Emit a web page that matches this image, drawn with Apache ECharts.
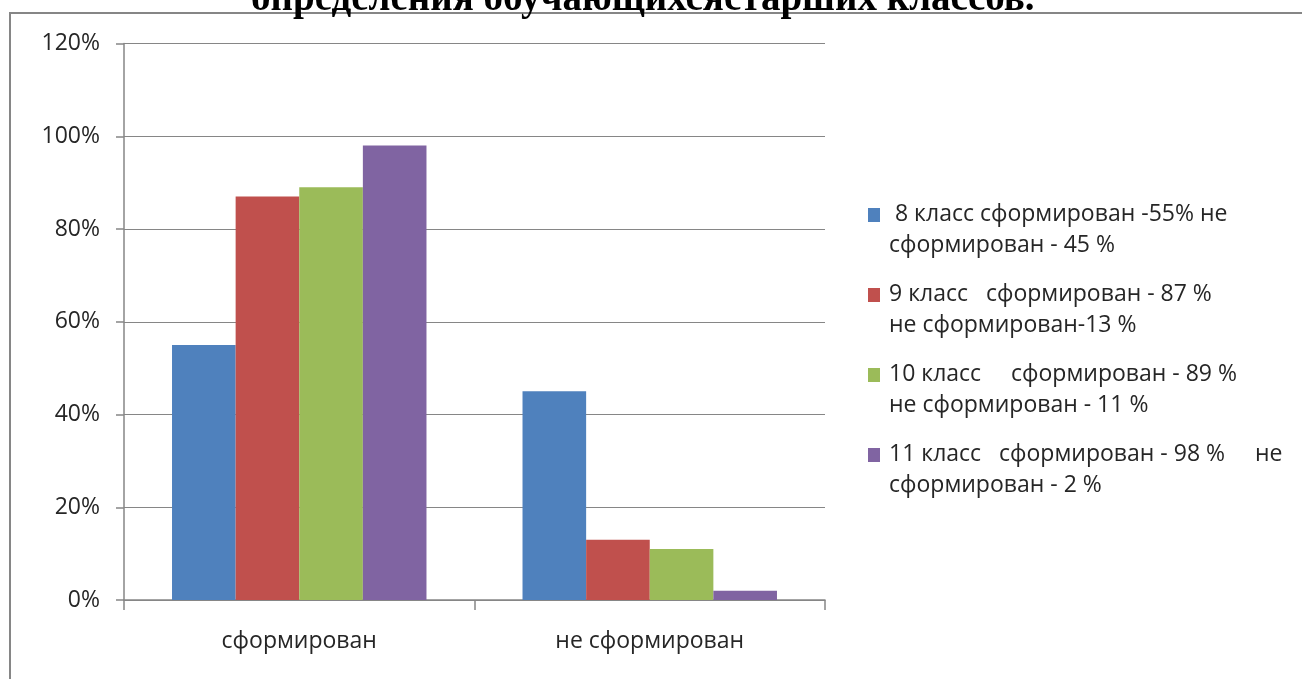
<!DOCTYPE html>
<html lang="ru">
<head>
    <meta charset="UTF-8">
    <title>Сформированность</title>
    <script src="https://cdn.jsdelivr.net/npm/echarts@6.0.0/dist/echarts.min.js"></script>
    <style>
        html, body { margin: 0; padding: 0; background: #fff; }
        #container { width: 1302px; height: 679px; }
    </style>
</head>
<body>
<div id="container"></div>

<script type="text/javascript">
    // данные диаграммы
    var categories = ['сформирован', 'не сформирован'];
    var seriesNames = ['8 класс', '9 класс', '10 класс', '11 класс'];
    var legendTexts = [
        ' 8 класс сформирован -55% не\nсформирован - 45 %',
        '9 класс   сформирован - 87 %\nне сформирован-13 %',
        '10 класс     сформирован - 89 %\nне сформирован - 11 %',
        '11 класс   сформирован - 98 %     не\nсформирован - 2 %'
    ];
    var values8 = [55, 45];
    var values9 = [87, 13];
    var values10 = [89, 11];
    var values11 = [98, 2];
    var yTicks = [0, 20, 40, 60, 80, 100, 120];
    var colors = ['#4F81BD', '#C0504D', '#9BBB59', '#8064A2'];

    var allValues = [values8, values9, values10, values11];

    var myChart = echarts.init(document.getElementById('container'), null, { renderer: 'canvas' });

    var series = [];
    for (var i = 0; i < seriesNames.length; i++) {
        series.push({
            name: legendTexts[i],
            type: 'bar',
            data: allValues[i],
            barGap: 0,
            barCategoryGap: '27.4%',
            itemStyle: { color: colors[i] }
        });
    }

    var option = {
        animation: false,
        textStyle: { fontFamily: 'Open Sans' },
        title: {
            text: 'определения обучающихсястарших классов.',
            left: 246,
            top: -25,
            textStyle: {
                fontFamily: 'Liberation Serif',
                fontWeight: 'bold',
                fontSize: 39,
                color: '#000'
            }
        },
        graphic: [{
            type: 'polyline',
            shape: { points: [[10, 679], [10, 13], [1302, 13]] },
            style: { stroke: '#868686', lineWidth: 2, fill: null }
        }],
        legend: {
            orient: 'vertical',
            left: 868,
            top: 199,
            padding: 0,
            itemWidth: 12,
            itemHeight: 44,
            itemGap: 18,
            icon: 'path://M0,0h12v14h-12z M0,43.99h0.01v0.01h-0.01z',
            textStyle: { fontSize: 23, lineHeight: 31, color: '#262626', padding: [0, 0, 0, 4] },
            data: legendTexts
        },
        grid: { left: 124, right: 477, top: 43.5, bottom: 79, containLabel: false },
        xAxis: {
            type: 'category',
            data: categories,
            axisLine: { lineStyle: { color: '#868686', width: 1.5 } },
            axisTick: { show: true, length: 10, lineStyle: { color: '#868686', width: 1.5 } },
            axisLabel: { fontSize: 23, color: '#262626', margin: 30 }
        },
        yAxis: {
            type: 'value',
            min: 0,
            max: 120,
            interval: 20,
            axisLine: { show: true, lineStyle: { color: '#868686', width: 1.5 } },
            axisTick: { show: true, length: 8, lineStyle: { color: '#868686', width: 1.5 } },
            splitLine: { lineStyle: { color: '#868686', width: 1.2 } },
            axisLabel: {
                fontSize: 23,
                color: '#262626',
                margin: 24,
                formatter: function (v) { return yTicks.indexOf(v) >= 0 ? v + '%' : ''; }
            }
        },
        series: series
    };

    myChart.setOption(option);
</script>
</body>
</html>
